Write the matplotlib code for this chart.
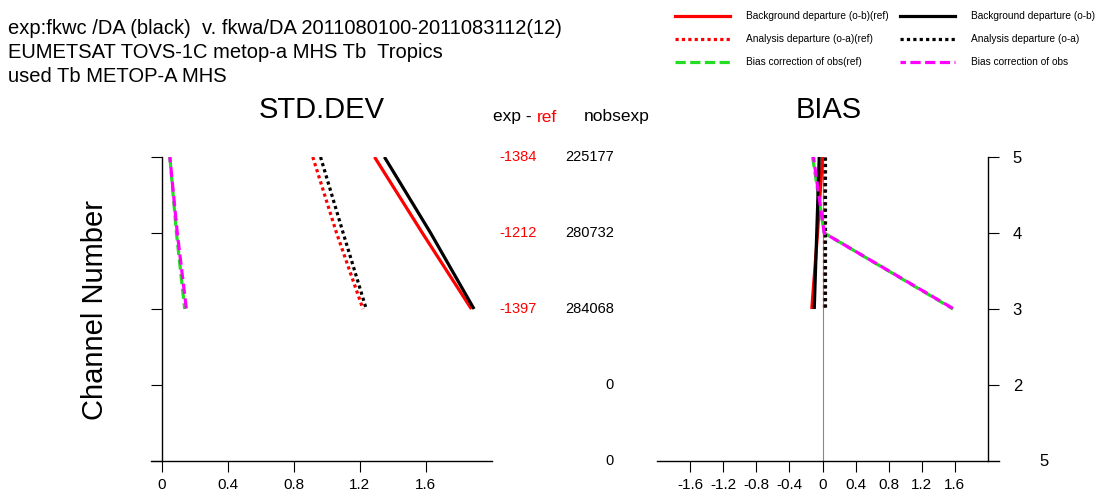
import numpy as np
import matplotlib
matplotlib.use('Agg')
import matplotlib.pyplot as plt
from matplotlib.lines import Line2D
from matplotlib.transforms import blended_transform_factory

plt.rcParams['font.family'] = ['Liberation Sans', 'DejaVu Sans']

channels = [5, 4, 3]

# STD.DEV
std_fg_ref = [1.29, 1.58, 1.877]
std_fg_exp = [1.35, 1.63, 1.893]
std_an_ref = [0.916, 1.06, 1.22]
std_an_exp = [0.963, 1.10, 1.24]
std_bc_ref = [0.05, 0.09, 0.14]
std_bc_exp = [0.05, 0.095, 0.15]

# BIAS
bias_fg_ref = [0.0, -0.06, -0.13]
bias_fg_exp = [-0.04, -0.07, -0.10]
bias_an_ref = [0.02, 0.02, 0.02]
bias_an_exp = [0.03, 0.03, 0.03]
bias_bc_ref = [-0.12, 0.02, 1.58]
bias_bc_exp = [-0.11, 0.02, 1.59]

all_channels = [5, 4, 3, 2, 1]
exp_minus_ref = ['-1384', '-1212', '-1397', '', '']
nobsexp = ['225177', '280732', '284068', '0', '0']

header = ['exp:fkwc /DA (black)  v. fkwa/DA 2011080100-2011083112(12)',
          'EUMETSAT TOVS-1C metop-a MHS Tb  Tropics',
          'used Tb METOP-A MHS']

W, H = 1097, 492
fig = plt.figure(figsize=(W / 100, H / 100), dpi=100)

def fx(px):
    return px / W

def fy(py):
    return 1 - py / H

red = '#ff0000'
green = '#22dd22'
mag = '#ff00ff'
lw = 2.3
dot = (0, (1, 1))
dash = (0, (3.2, 1.4))
dash2 = (1.5, (3.2, 1.4))

styles = [
    dict(color=red, lw=lw, ls='-'),
    dict(color=red, lw=lw, ls=dot),
    dict(color=green, lw=lw, ls=dash),
    dict(color='black', lw=lw, ls='-'),
    dict(color='black', lw=lw, ls=dot),
    dict(color=mag, lw=lw, ls=dash2),
]
labels = ['Background departure (o-b)(ref)', 'Analysis departure (o-a)(ref)',
          'Bias correction of obs(ref)', 'Background departure (o-b)',
          'Analysis departure (o-a)', 'Bias correction of obs']

# left axes (STD.DEV)
ax1 = fig.add_axes([fx(150.7), fy(461), fx(491.7) - fx(150.7), fy(157) - fy(461)])
ax1.set_xlim(-0.066, 2.0)
ax1.set_ylim(1, 5)
std_series = [std_fg_ref, std_an_ref, std_bc_ref, std_fg_exp, std_an_exp, std_bc_exp]
for vals, st in zip(std_series, styles):
    ax1.plot(vals, channels, solid_capstyle='butt', **st)
ax1.spines['top'].set_visible(False)
ax1.spines['right'].set_visible(False)
ax1.spines['left'].set_position(('data', 0))
ax1.set_xticks([0, 0.4, 0.8, 1.2, 1.6])
ax1.set_xticklabels(['0', '0.4', '0.8', '1.2', '1.6'])
ax1.set_yticks(all_channels)
ax1.tick_params(axis='y', labelleft=False, length=8, direction='out')
ax1.tick_params(axis='x', length=8, direction='out', labelsize=11, pad=4)
ax1.set_title('STD.DEV', fontsize=21, y=1.1)

# right axes (BIAS)
ax2 = fig.add_axes([fx(657.3), fy(461), fx(999.3) - fx(657.3), fy(157) - fy(461)])
ax2.set_xlim(-2.0, 2.14)
ax2.set_ylim(1, 5)
ax2.axvline(0, color='#888888', lw=0.8, zorder=0)
bias_series = [bias_fg_ref, bias_an_ref, bias_bc_ref, bias_fg_exp, bias_an_exp, bias_bc_exp]
for vals, st in zip(bias_series, styles):
    ax2.plot(vals, channels, solid_capstyle='butt', **st)
ax2.spines['top'].set_visible(False)
ax2.spines['left'].set_visible(False)
ax2.spines['right'].set_position(('data', 2.0))
ax2.yaxis.tick_right()
ax2.set_yticks([2, 3, 4, 5])
ax2.set_xticks([-1.6, -1.2, -0.8, -0.4, 0, 0.4, 0.8, 1.2, 1.6])
ax2.set_xticklabels(['-1.6', '-1.2', '-0.8', '-0.4', '0', '0.4', '0.8', '1.2', '1.6'])
ax2.tick_params(axis='y', length=8, direction='out', labelsize=12, pad=10)
ax2.tick_params(axis='x', length=8, direction='out', labelsize=11, pad=4)
ax2.set_title('BIAS', fontsize=21, y=1.1)
fig.text(fx(1044), fy(461), '5', fontsize=12, ha='center', va='center')

for ax in (ax1, ax2):
    for s in ax.spines.values():
        s.set_linewidth(1.0)

# ylabel
fig.text(fx(95), fy(310), 'Channel Number', fontsize=21, rotation=90,
         ha='center', va='center')

# header
for i, line in enumerate(header):
    fig.text(fx(8), fy(28 + 24 * i), line, fontsize=14.5, ha='left', va='center')

# exp - ref / nobsexp columns
fig.text(fx(493), fy(117), 'exp - ', fontsize=12.5, ha='left', va='center')
fig.text(fx(537), fy(117), 'ref', fontsize=12.5, ha='left', va='center', color=red)
fig.text(fx(584), fy(117), 'nobsexp', fontsize=12.5, ha='left', va='center')
tr = blended_transform_factory(fig.transFigure, ax1.transData)
for ch, d, n in zip(all_channels, exp_minus_ref, nobsexp):
    if d:
        fig.text(fx(518), ch, d, transform=tr, fontsize=10.5, color=red,
                 ha='center', va='center')
    fig.text(fx(614), ch, n, transform=tr, fontsize=10.5, ha='right', va='center')

# legend
handles = [Line2D([], [], **st) for st in styles]
fig.legend(handles, labels, ncol=2, loc='upper left',
           bbox_to_anchor=(fx(668), fy(4)), frameon=False, fontsize=7.3,
           handlelength=5.4, handletextpad=1.6, columnspacing=1.1,
           labelspacing=1.3, borderpad=0.2)

fig.savefig('out.png', dpi=100)
